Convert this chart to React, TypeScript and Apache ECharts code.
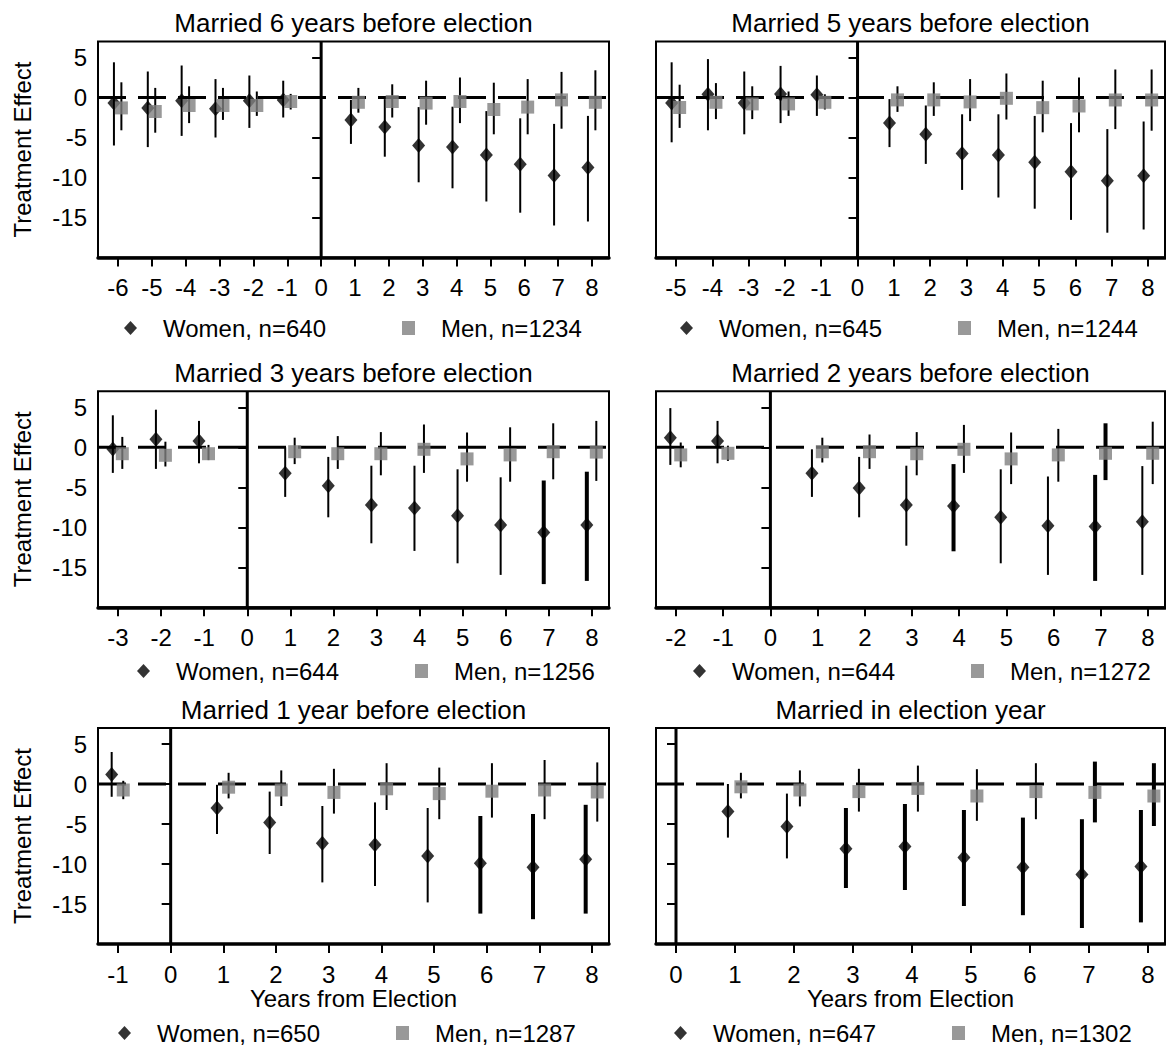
import React, { useEffect, useRef } from "react";
import * as echarts from "echarts";

// ---------- DATA ----------
const panelTitles = [
  "Married 6 years before election",
  "Married 5 years before election",
  "Married 3 years before election",
  "Married 2 years before election",
  "Married 1 year before election",
  "Married in election year",
];
const womenN = [640, 645, 644, 644, 650, 647];
const menN = [1234, 1244, 1256, 1272, 1287, 1302];

// x-axis tick labels per panel
const ticksA = [-6, -5, -4, -3, -2, -1, 0, 1, 2, 3, 4, 5, 6, 7, 8];
const ticksB = [-5, -4, -3, -2, -1, 0, 1, 2, 3, 4, 5, 6, 7, 8];
const ticksC = [-3, -2, -1, 0, 1, 2, 3, 4, 5, 6, 7, 8];
const ticksD = [-2, -1, 0, 1, 2, 3, 4, 5, 6, 7, 8];
const ticksE = [-1, 0, 1, 2, 3, 4, 5, 6, 7, 8];
const ticksF = [0, 1, 2, 3, 4, 5, 6, 7, 8];
const yTicks = [-15, -10, -5, 0, 5];

// Panel A: married 6 years before election
const yearsA = [-6, -5, -4, -3, -2, -1, 1, 2, 3, 4, 5, 6, 7, 8];
const womenPtA = [-0.7, -1.3, -0.4, -1.4, -0.4, -0.3, -2.8, -3.7, -6.0, -6.2, -7.2, -8.35, -9.75, -8.75];
const womenLoA = [-6.0, -6.2, -4.8, -5.0, -3.8, -2.5, -5.8, -7.4, -10.6, -11.35, -13.0, -14.4, -16.0, -15.5];
const womenHiA = [4.4, 3.25, 4.0, 2.3, 2.75, 2.1, -0.3, -0.2, -1.2, -1.15, -1.7, -2.6, -3.3, -2.3];
const menPtA = [-1.3, -1.75, -1.0, -1.0, -1.0, -0.5, -0.6, -0.5, -0.7, -0.5, -1.5, -1.2, -0.3, -0.6];
const menLoA = [-4.1, -4.4, -3.2, -2.8, -2.3, -1.5, -1.9, -2.5, -3.4, -3.2, -4.6, -4.6, -3.9, -4.1];
const menHiA = [1.9, 1.2, 1.4, 1.2, 0.75, 0.45, 1.2, 1.65, 2.1, 2.5, 1.85, 2.3, 3.2, 3.4];
const boldWomenA: number[] = [];
const boldMenA: number[] = [];

// Panel B: married 5 years before election
const yearsB = [-5, -4, -3, -2, -1, 1, 2, 3, 4, 5, 6, 7, 8];
const womenPtB = [-0.7, 0.4, -0.7, 0.45, 0.35, -3.2, -4.6, -7.0, -7.2, -8.1, -9.27, -10.4, -9.77];
const womenLoB = [-5.6, -4.1, -4.6, -3.2, -2.3, -6.2, -8.3, -11.55, -12.5, -13.9, -15.3, -16.9, -16.5];
const womenHiB = [4.4, 4.8, 3.25, 3.95, 2.75, -0.2, -1.0, -2.1, -2.1, -2.3, -3.2, -3.95, -3.0];
const menPtB = [-1.25, -0.6, -0.8, -0.8, -0.6, -0.3, -0.3, -0.55, -0.1, -1.27, -1.06, -0.31, -0.31];
const menLoB = [-3.8, -2.7, -2.7, -2.3, -1.5, -1.8, -2.3, -2.95, -2.75, -4.35, -4.35, -3.95, -4.15];
const menHiB = [1.6, 1.8, 1.4, 0.75, 0.4, 1.4, 1.9, 2.3, 3.0, 2.1, 2.5, 3.5, 3.5];
const boldWomenB: number[] = [];
const boldMenB: number[] = [];

// Panel C: married 3 years before election
const yearsC = [-3, -2, -1, 1, 2, 3, 4, 5, 6, 7, 8];
const womenPtC = [-0.2, 1.0, 0.8, -3.25, -4.8, -7.2, -7.6, -8.55, -9.7, -10.65, -9.7];
const womenLoC = [-3.2, -2.7, -2.0, -6.2, -8.75, -12.0, -12.95, -14.5, -15.95, -17.1, -16.7];
const womenHiC = [4.0, 4.7, 3.3, 0.0, -1.2, -2.3, -2.3, -2.75, -3.75, -4.15, -3.05];
const menPtC = [-0.8, -1.0, -0.8, -0.55, -0.8, -0.8, -0.25, -1.45, -0.95, -0.55, -0.6];
const menLoC = [-2.7, -2.4, -1.6, -2.1, -2.7, -3.5, -3.2, -4.3, -4.3, -4.0, -4.2];
const menHiC = [1.3, 0.7, 0.3, 1.2, 1.4, 1.9, 2.85, 1.85, 2.5, 3.0, 3.3];
const boldWomenC = [7, 8];
const boldMenC: number[] = [];

// Panel D: married 2 years before election
const yearsD = [-2, -1, 1, 2, 3, 4, 5, 6, 7, 8];
const womenPtD = [1.2, 0.8, -3.25, -5.1, -7.2, -7.35, -8.75, -9.8, -9.9, -9.3];
const womenLoD = [-2.2, -2.0, -6.2, -8.75, -12.3, -13.0, -14.5, -15.95, -16.7, -15.95];
const womenHiD = [4.9, 3.3, -0.25, -1.2, -2.3, -2.1, -2.75, -3.65, -3.45, -2.35];
const menPtD = [-0.95, -0.75, -0.55, -0.55, -0.8, -0.25, -1.45, -0.95, -0.75, -0.75];
const menLoD = [-2.5, -1.7, -1.9, -2.7, -3.5, -3.2, -4.6, -4.3, -4.1, -4.6];
const menHiD = [0.6, 0.2, 1.2, 1.6, 1.9, 2.8, 1.85, 2.3, 3.0, 3.2];
const boldWomenD = [4, 7];
const boldMenD = [7];

// Panel E: married 1 year before election
const yearsE = [-1, 1, 2, 3, 4, 5, 6, 7, 8];
const womenPtE = [1.2, -3.0, -4.8, -7.4, -7.6, -9.0, -9.9, -10.4, -9.4];
const womenLoE = [-1.6, -6.25, -8.75, -12.3, -12.75, -14.8, -16.2, -16.9, -16.2];
const womenHiE = [4.0, -0.1, -0.95, -2.75, -2.3, -3.0, -4.0, -3.75, -2.6];
const menPtE = [-0.75, -0.4, -0.75, -1.05, -0.6, -1.2, -0.9, -0.75, -1.0];
const menLoE = [-1.9, -1.8, -2.75, -3.7, -3.25, -4.4, -4.2, -4.4, -4.7];
const menHiE = [0.4, 1.4, 1.7, 1.9, 2.6, 2.05, 2.6, 3.0, 2.7];
const boldWomenE = [6, 7, 8];
const boldMenE: number[] = [];

// Panel F: married in election year
const yearsF = [1, 2, 3, 4, 5, 6, 7, 8];
const womenPtF = [-3.45, -5.3, -8.1, -7.8, -9.2, -10.4, -11.3, -10.3];
const womenLoF = [-6.7, -9.3, -13.0, -13.25, -15.25, -16.4, -18.0, -17.3];
const womenHiF = [0.0, -1.2, -3.0, -2.5, -3.25, -4.2, -4.4, -3.25];
const menPtF = [-0.35, -0.75, -0.95, -0.55, -1.5, -0.95, -1.05, -1.5];
const menLoF = [-1.8, -2.8, -3.45, -3.45, -4.6, -4.4, -4.8, -5.25];
const menHiF = [1.4, 1.7, 1.9, 2.3, 1.85, 2.6, 2.8, 2.6];
const boldWomenF = [3, 4, 5, 6, 7, 8];
const boldMenF = [7, 8];

const panels = [
  { ticks: ticksA, years: yearsA, wPt: womenPtA, wLo: womenLoA, wHi: womenHiA, mPt: menPtA, mLo: menLoA, mHi: menHiA, bW: boldWomenA, bM: boldMenA },
  { ticks: ticksB, years: yearsB, wPt: womenPtB, wLo: womenLoB, wHi: womenHiB, mPt: menPtB, mLo: menLoB, mHi: menHiB, bW: boldWomenB, bM: boldMenB },
  { ticks: ticksC, years: yearsC, wPt: womenPtC, wLo: womenLoC, wHi: womenHiC, mPt: menPtC, mLo: menLoC, mHi: menHiC, bW: boldWomenC, bM: boldMenC },
  { ticks: ticksD, years: yearsD, wPt: womenPtD, wLo: womenLoD, wHi: womenHiD, mPt: menPtD, mLo: menLoD, mHi: menHiD, bW: boldWomenD, bM: boldMenD },
  { ticks: ticksE, years: yearsE, wPt: womenPtE, wLo: womenLoE, wHi: womenHiE, mPt: menPtE, mLo: menLoE, mHi: menHiE, bW: boldWomenE, bM: boldMenE },
  { ticks: ticksF, years: yearsF, wPt: womenPtF, wLo: womenLoF, wHi: womenHiF, mPt: menPtF, mLo: menLoF, mHi: menHiF, bW: boldWomenF, bM: boldMenF },
];

// ---------- LAYOUT ----------
const FONT = '"Liberation Sans", Arial, Helvetica, sans-serif';
const Y_MIN = -20;
const Y_MAX = 7;
const PX_PER_UNIT = 8;
const ROW_ZERO = [97.5, 447.3, 784];
const COL_LEFT = [98, 656];
const COL_WIDTH = [511, 509];
const PAD_L = 20;
const PAD_R = 17;
const W_OFF = -0.12;
const M_OFF = 0.1;
const TITLE_Y = [23, 373, 710];
const LEGEND_Y = [325, 668, 1030];
const LEGEND_LEFT = [119, 675, 132, 688, 113, 669];

function ciRender(params: any, api: any) {
  const x = api.value(0);
  const lo = api.value(1);
  const hi = api.value(2);
  const bold = api.value(3);
  const p1 = api.coord([x, lo]);
  const p2 = api.coord([x, hi]);
  return {
    type: "line",
    shape: { x1: p1[0], y1: p1[1], x2: p2[0], y2: p2[1] },
    style: { stroke: "#000", lineWidth: bold ? 4 : 2 },
  };
}

function buildOption() {
  const grid: any[] = [];
  const xAxis: any[] = [];
  const yAxis: any[] = [];
  const series: any[] = [];
  const legend: any[] = [];
  const graphic: any[] = [];

  panels.forEach((p, i) => {
    const row = Math.floor(i / 2);
    const col = i % 2;
    const left = COL_LEFT[col];
    const width = COL_WIDTH[col];
    const top = ROW_ZERO[row] - Y_MAX * PX_PER_UNIT;
    const height = (Y_MAX - Y_MIN) * PX_PER_UNIT;
    const first = p.ticks[0];
    const last = p.ticks[p.ticks.length - 1];
    const unit = (width - PAD_L - PAD_R) / (last - first);
    const xMin = first - PAD_L / unit;
    const xMax = last + PAD_R / unit;

    grid.push({
      left,
      top,
      width,
      height,
      show: true,
      borderColor: "#000",
      borderWidth: 2,
      backgroundColor: "transparent",
      containLabel: false,
    });

    xAxis.push({
      type: "value",
      gridIndex: i,
      min: xMin,
      max: xMax,
      axisLine: { show: true, onZero: false, lineStyle: { color: "#000", width: 3.5 } },
      axisTick: {
        show: true,
        inside: false,
        length: 9,
        customValues: p.ticks,
        lineStyle: { color: "#000", width: 2 },
      },
      axisLabel: {
        show: true,
        customValues: p.ticks,
        fontSize: 24,
        color: "#000",
        fontFamily: FONT,
        margin: 18,
      },
      splitLine: { show: false },
      ...(row === 2
        ? {
            name: "Years from Election",
            nameLocation: "middle",
            nameGap: 42,
            nameTextStyle: { fontSize: 24, color: "#000", fontFamily: FONT },
          }
        : {}),
    });

    yAxis.push({
      type: "value",
      gridIndex: i,
      min: Y_MIN,
      max: Y_MAX,
      axisLine: { show: false },
      axisTick: {
        show: true,
        inside: false,
        length: 9,
        customValues: yTicks,
        lineStyle: { color: "#000", width: 2 },
      },
      axisLabel: {
        show: col === 0,
        customValues: yTicks,
        fontSize: 24,
        color: "#000",
        fontFamily: FONT,
        margin: 11,
      },
      splitLine: { show: false },
      ...(col === 0
        ? {
            name: "Treatment Effect",
            nameLocation: "middle",
            nameGap: 64,
            nameRotate: 90,
            nameTextStyle: { fontSize: 24, color: "#000", fontFamily: FONT },
          }
        : {}),
    });

    const wName = `Women, n=${womenN[i]}`;
    const mName = `Men, n=${menN[i]}`;

    // reference lines
    series.push({
      type: "line",
      xAxisIndex: i,
      yAxisIndex: i,
      data: [
        [xMin, 0],
        [xMax, 0],
      ],
      symbol: "none",
      silent: true,
      z: 1,
      lineStyle: { color: "#000", width: 3, type: [28, 12] },
    });
    series.push({
      type: "line",
      xAxisIndex: i,
      yAxisIndex: i,
      data: [
        [0, Y_MIN],
        [0, Y_MAX],
      ],
      symbol: "none",
      silent: true,
      z: 1,
      lineStyle: { color: "#000", width: 3 },
    });

    // confidence intervals
    series.push({
      type: "custom",
      xAxisIndex: i,
      yAxisIndex: i,
      renderItem: ciRender,
      silent: true,
      z: 2,
      data: p.years.map((y, k) => [y + W_OFF, p.wLo[k], p.wHi[k], p.bW.includes(y) ? 1 : 0]),
    });
    series.push({
      type: "custom",
      xAxisIndex: i,
      yAxisIndex: i,
      renderItem: ciRender,
      silent: true,
      z: 2,
      data: p.years.map((y, k) => [y + M_OFF, p.mLo[k], p.mHi[k], p.bM.includes(y) ? 1 : 0]),
    });

    // point estimates
    series.push({
      type: "scatter",
      name: wName,
      xAxisIndex: i,
      yAxisIndex: i,
      symbol: "diamond",
      symbolSize: [13, 15],
      itemStyle: { color: "#000" },
      z: 3,
      data: p.years.map((y, k) => [y + W_OFF, p.wPt[k]]),
    });
    series.push({
      type: "scatter",
      name: mName,
      xAxisIndex: i,
      yAxisIndex: i,
      symbol: "rect",
      symbolSize: 13,
      itemStyle: { color: "#808080" },
      z: 4,
      data: p.years.map((y, k) => [y + M_OFF, p.mPt[k]]),
    });

    legend.push({
      data: [
        { name: wName, icon: "diamond", itemStyle: { color: "#000" } },
        { name: mName, icon: "rect", itemStyle: { color: "#808080" } },
      ],
      left: LEGEND_LEFT[i],
      top: LEGEND_Y[row] - 14,
      orient: "horizontal",
      itemWidth: 13,
      itemHeight: 14,
      itemGap: 76,
      selectedMode: false,
      textStyle: { fontSize: 24, color: "#000", fontFamily: FONT, padding: [0, 0, 0, 21] },
    });

    graphic.push({
      type: "text",
      x: left + width / 2,
      y: TITLE_Y[row],
      style: {
        text: panelTitles[i],
        font: `26px ${FONT}`,
        fill: "#000",
        textAlign: "center",
        textVerticalAlign: "middle",
        align: "center",
        verticalAlign: "middle",
      },
    });
  });

  return {
    animation: false,
    backgroundColor: "#fff",
    grid,
    xAxis,
    yAxis,
    series,
    legend,
    graphic,
  };
}

export default function App() {
  const ref = useRef<HTMLDivElement>(null);
  useEffect(() => {
    document.body.style.margin = "0";
    if (!ref.current) return;
    const chart = echarts.init(ref.current, undefined, { renderer: "svg" });
    chart.setOption(buildOption() as any);
    return () => chart.dispose();
  }, []);
  return <div ref={ref} style={{ width: 1166, height: 1046 }} />;
}
